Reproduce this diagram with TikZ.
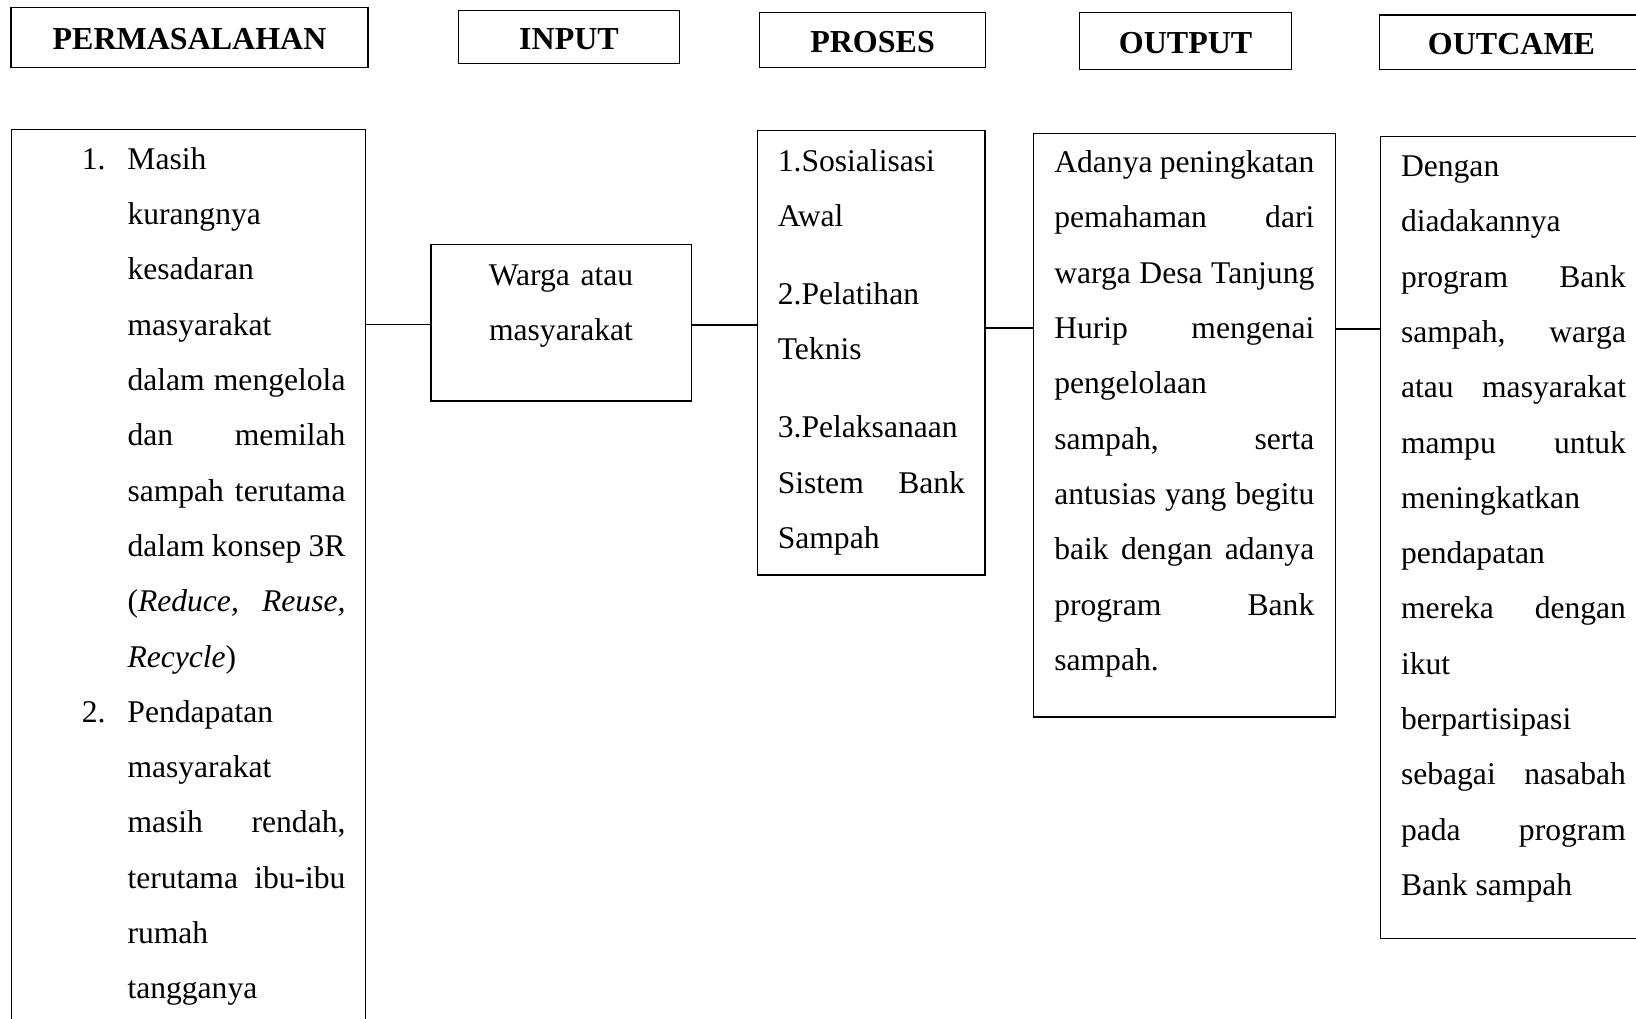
\documentclass[tikz,border=0pt]{standalone}
\usepackage{fontspec}
\setmainfont{Liberation Serif}
\newcommand\txtfont{\fontsize{15.8pt}{27.65pt}\selectfont\hyphenpenalty=10000 \exhyphenpenalty=10000 \hbadness=10000 \tolerance=10000 }
\begin{document}
\begin{tikzpicture}[x=0.5pt,y=-0.5pt,
  box/.style={draw, line width=0.75pt, inner sep=0pt, outer sep=0pt, anchor=north west},
  head/.style={draw, line width=0.75pt, inner sep=0pt, outer sep=0pt,
    font=\fontsize{16pt}{19pt}\selectfont\bfseries, text height=12pt, text depth=0pt},
  txt/.style={inner sep=0pt, outer sep=0pt, anchor=base west, align=justify, font=\txtfont},
  conn/.style={line width=0.75pt}]
\useasboundingbox (0,0) rectangle (1636,1018);
\clip (0,0) rectangle (1636,1018);
\fill[white] (0,0) rectangle (1636,1018);

% headers
\node[head, minimum width=178.35pt, minimum height=30.2pt] (hperm) at (189.55,37.5) {PERMASALAHAN};
\node[head, minimum width=110.5pt, minimum height=26.3pt] (hinp) at (569,37) {INPUT};
\node[head, minimum width=112.85pt, minimum height=27.3pt] (hpros) at (872.55,40) {PROSES};
\node[head, minimum width=105.95pt, minimum height=28.3pt] (houtp) at (1185.65,41) {OUTPUT};
\node[head, minimum width=132.1pt, minimum height=27.15pt] (houtc) at (1511.5,42.15) {OUTCAME};

% body boxes
\node[box, minimum width=177pt, minimum height=455.3pt] (perm) at (11.7,129.4) {};
\node[box, minimum width=130.35pt, minimum height=78.35pt] (inp) at (430.8,244.3) {};
\node[box, minimum width=113.85pt, minimum height=222.15pt] (pros) at (757.3,130.7) {};
\node[box, minimum width=151.2pt, minimum height=291.7pt] (outp) at (1033.3,133.4) {};
\node[box, minimum width=132.75pt, minimum height=401pt] (outc) at (1380.5,136.7) {};

% texts
\node[txt, text width=109pt] (tperm) at (127.5,169.3) {%
\leavevmode\llap{1.\hspace{11pt}}Masih\linebreak
kurangnya\linebreak
kesadaran\linebreak
masyarakat\linebreak
dalam~mengelola\linebreak
dan~memilah\linebreak
sampah~terutama\linebreak
dalam~konsep~3R\linebreak
(\textit{Reduce,}~\textit{Reuse,}\linebreak
\textit{Recycle})\par
\leavevmode\llap{2.\hspace{11pt}}Pendapatan\linebreak
masyarakat\linebreak
masih~rendah,\linebreak
terutama~ibu-ibu\linebreak
rumah\linebreak
tangganya};

\node[txt, text width=130pt, align=center, anchor=base] (tinp) at (561,285) {Warga atau\\masyarakat};

\node[txt, text width=93.6pt] (tpros) at (777.8,171.5) {\setlength{\parskip}{11.25pt}%
1.Sosialisasi\linebreak
Awal\par
2.Pelatihan\linebreak
Teknis\par
3.Pelaksanaan\linebreak
Sistem~Bank\linebreak
Sampah};

\node[txt, text width=130pt] (toutp) at (1054.3,172.6) {%
Adanya~peningkatan\linebreak
pemahaman~dari\linebreak
warga~Desa~Tanjung\linebreak
Hurip~mengenai\linebreak
pengelolaan\linebreak
sampah,~serta\linebreak
antusias~yang~begitu\linebreak
baik~dengan~adanya\linebreak
program~Bank\linebreak
sampah.};

\node[txt, text width=112.5pt] (toutc) at (1401,176.5) {%
Dengan\linebreak
diadakannya\linebreak
program~Bank\linebreak
sampah,~warga\linebreak
atau~masyarakat\linebreak
mampu~untuk\linebreak
meningkatkan\linebreak
pendapatan\linebreak
mereka~dengan\linebreak
ikut\linebreak
berpartisipasi\linebreak
sebagai~nasabah\linebreak
pada~program\linebreak
Bank~sampah};

% connectors
\coordinate (ya) at (0,324.5);
\coordinate (yb) at (0,325);
\coordinate (yc) at (0,328);
\coordinate (yd) at (0,329);
\draw[conn] (perm.east |- ya) -- (inp.west |- ya);
\draw[conn] (inp.east |- yb) -- (pros.west |- yb);
\draw[conn] (pros.east |- yc) -- (outp.west |- yc);
\draw[conn] (outp.east |- yd) -- (outc.west |- yd);
\end{tikzpicture}
\end{document}
